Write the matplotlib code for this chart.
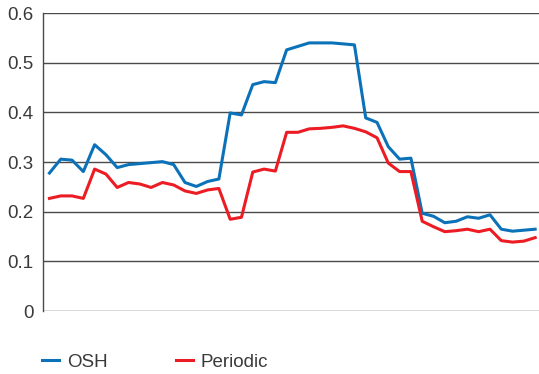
import matplotlib
matplotlib.use("Agg")
import matplotlib.pyplot as plt
import numpy as np

plt.rcParams['font.family'] = ['Liberation Sans', 'DejaVu Sans']

# values, one per period
osh = [0.278, 0.306, 0.304, 0.281, 0.335, 0.315, 0.289, 0.295, 0.297, 0.299,
       0.301, 0.295, 0.259, 0.251, 0.261, 0.266, 0.399, 0.395, 0.456, 0.462,
       0.460, 0.526, 0.533, 0.540, 0.540, 0.540, 0.538, 0.536, 0.389, 0.380,
       0.331, 0.306, 0.308, 0.197, 0.191, 0.178, 0.181, 0.190, 0.187, 0.194,
       0.165, 0.161, 0.163, 0.165]
periodic = [0.227, 0.232, 0.232, 0.227, 0.286, 0.276, 0.249, 0.259, 0.256, 0.249,
            0.259, 0.254, 0.242, 0.237, 0.244, 0.247, 0.185, 0.189, 0.280, 0.286,
            0.282, 0.360, 0.360, 0.367, 0.368, 0.370, 0.373, 0.368, 0.361, 0.349,
            0.298, 0.281, 0.281, 0.181, 0.170, 0.160, 0.162, 0.165, 0.160, 0.165,
            0.142, 0.139, 0.141, 0.148]
yticks = [0, 0.1, 0.2, 0.3, 0.4, 0.5, 0.6]
ytick_labels = ['0', '0.1', '0.2', '0.3', '0.4', '0.5', '0.6']

x = np.arange(len(osh))

fig = plt.figure(figsize=(5.39, 3.74), dpi=100)
ax = fig.add_axes([0.08, 0.168, 0.92, 0.797])

for v in yticks:
    ax.axhline(v, color='#4a4a4a', lw=1.0, zorder=1)

ax.plot(x, osh, color='#0b72b9', lw=2.2, label='OSH', zorder=3)
ax.plot(x, periodic, color='#ec1c24', lw=2.2, label='Periodic', zorder=3)

ax.set_xlim(-0.56, 43.34)
ax.set_ylim(0, 0.6)
ax.set_xticks([])
ax.set_yticks(yticks)
ax.set_yticklabels(ytick_labels)
ax.tick_params(axis='y', length=0, pad=7, labelsize=13.5, labelcolor='#3a3a3a')

for s in ['top', 'right', 'bottom']:
    ax.spines[s].set_visible(False)
ax.spines['left'].set_color('#4a4a4a')
ax.spines['left'].set_linewidth(1.0)

leg = fig.legend(loc='lower left', bbox_to_anchor=(0.047, -0.037), ncol=2,
                 frameon=False, fontsize=13.5, handlelength=0.9,
                 handletextpad=0.45, columnspacing=3.6)
for t in leg.get_texts():
    t.set_color('#3a3a3a')

fig.savefig('out.png', dpi=100)
